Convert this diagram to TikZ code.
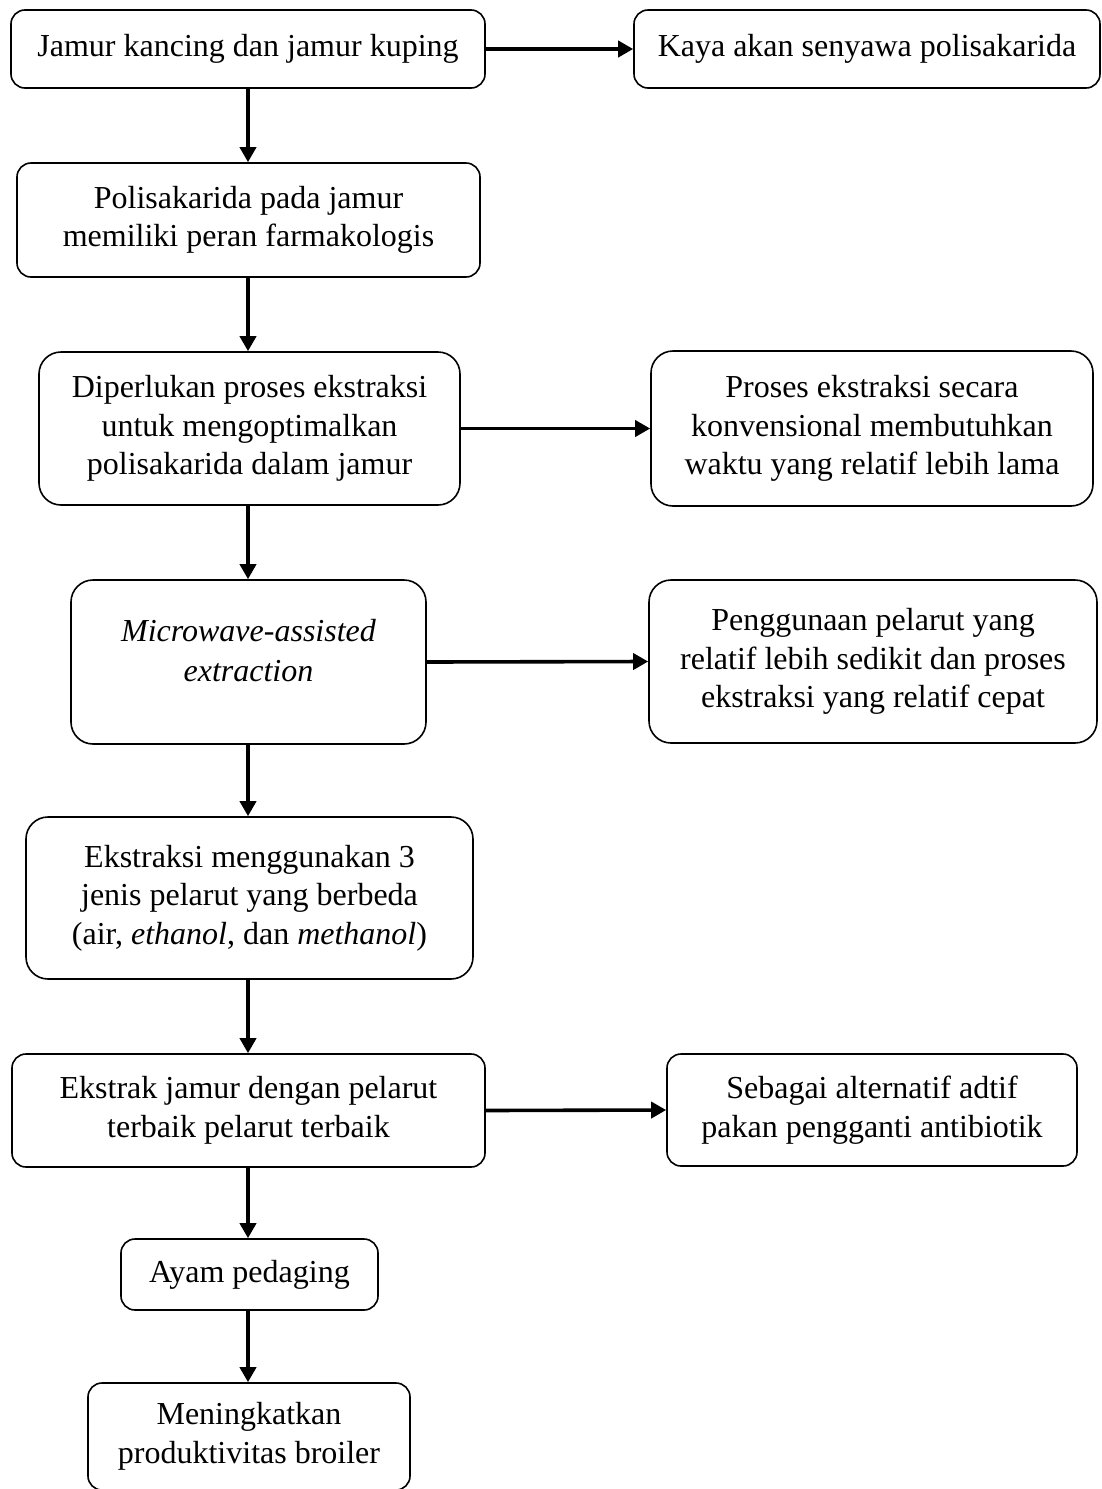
\documentclass[tikz,border=0pt]{standalone}
\usepackage{fontspec}
\setmainfont{Liberation Serif}
\usetikzlibrary{arrows.meta}
\tikzset{
  box/.style={draw, line width=1.6pt, rounded corners=14pt, inner sep=0pt, align=center,
              font=\fontsize{32}{38.5}\selectfont},
  tallbox/.style={box, rounded corners=22pt},
  arr/.style={line width=3.6pt, -{Triangle[length=15pt,width=16pt]}},
  plain/.style={inner sep=0pt, align=center, font=\fontsize{32}{40}\selectfont}
}
\begin{document}
\begin{tikzpicture}[x=1pt,y=-1pt]
\useasboundingbox (0,0) rectangle (1101,1489);
\coordinate (col) at (248,0);
\node[box, minimum width=474pt, minimum height=78pt] (b1) at (248,49) {Jamur kancing dan jamur kuping};
\node[box, minimum width=466pt, minimum height=78pt] (b2) at (867,49) {Kaya akan senyawa polisakarida};
\node[box, minimum width=463pt, minimum height=114pt] (b3) at (248.5,220) {Polisakarida pada jamur\\memiliki peran farmakologis};
\node[tallbox, minimum width=421pt, minimum height=153pt] (b4) at (249.5,428.5) {Diperlukan proses ekstraksi\\untuk mengoptimalkan\\polisakarida dalam jamur};
\node[tallbox, minimum width=442pt, minimum height=155pt] (b5) at (872,428.5) {Proses ekstraksi secara\\konvensional membutuhkan\\waktu yang relatif lebih lama};
\node[tallbox, minimum width=355pt, minimum height=164pt] (b6) at (248.5,662) {};
\node[plain] (t6) at (248.5,651) {\itshape Microwave-assisted\\\itshape extraction};
\node[tallbox, minimum width=448pt, minimum height=163pt] (b7) at (873,661.5) {Penggunaan pelarut yang\\relatif lebih sedikit dan proses\\ekstraksi yang relatif cepat};
\node[tallbox, minimum width=447pt, minimum height=162pt] (b8) at (249.5,898) {Ekstraksi menggunakan 3\\jenis pelarut yang berbeda\\(air, \textit{ethanol}, dan \textit{methanol})};
\node[box, minimum width=473pt, minimum height=113pt] (b9) at (248.5,1110.5) {Ekstrak jamur dengan pelarut\\terbaik pelarut terbaik};
\node[box, minimum width=410pt, minimum height=112pt] (b10) at (872,1110) {Sebagai alternatif adtif\\pakan pengganti antibiotik};
\node[box, minimum width=257pt, minimum height=71pt] (b11) at (249.5,1274.5) {Ayam pedaging};
\node[box, minimum width=322pt, minimum height=107pt] (b12) at (249,1436.5) {Meningkatkan\\produktivitas broiler};
% horizontal connectors
\draw[arr] (b1.east) -- (b2.west);
\draw[arr] (b4.east) -- (b5.west);
\draw[arr] (b6.east) -- (b7.west);
\draw[arr] (b9.east) -- (b10.west);
% vertical connectors
\draw[arr] (b1.south -| col) -- (b3.north -| col);
\draw[arr] (b3.south -| col) -- (b4.north -| col);
\draw[arr] (b4.south -| col) -- (b6.north -| col);
\draw[arr] (b6.south -| col) -- (b8.north -| col);
\draw[arr] (b8.south -| col) -- (b9.north -| col);
\draw[arr] (b9.south -| col) -- (b11.north -| col);
\draw[arr] (b11.south -| col) -- (b12.north -| col);
\end{tikzpicture}
\end{document}
